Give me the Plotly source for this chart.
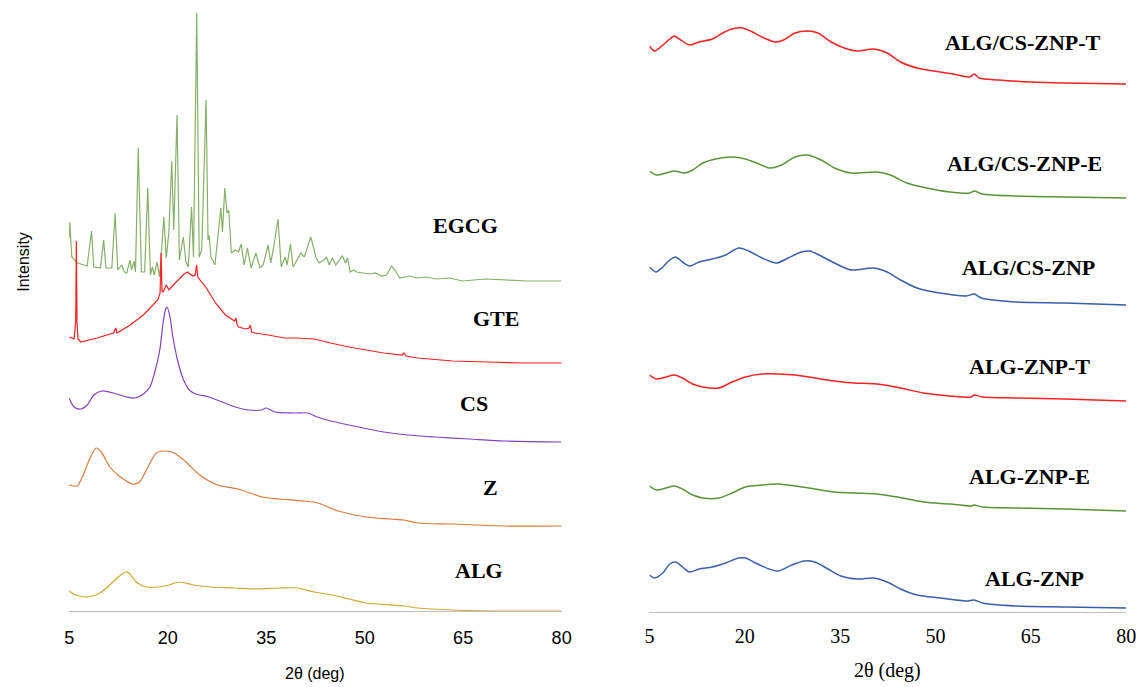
import plotly.graph_objects as go

# ---------------- data (2θ in deg, intensity in arbitrary stacked units) ----------------
TICKS = [5, 20, 35, 50, 65, 80]

EGCG = [(5.0,373),(5.1,389),(5.4,354),(6.25,348),(7.75,345),(8.4,380),(8.76,344),(9.76,343),(10.26,371),
        (10.6,343),(11.5,343),(12.0,398),(12.4,341),(13.0,346),(13.4,339),(13.77,338),(14.27,351),(14.5,341),
        (14.87,350),(15.1,339),(15.52,463),(16.0,339),(16.5,339),(16.97,423),(17.37,336),(17.67,344),(17.97,336),
        (18.37,349),(18.78,334),(19.43,394),(19.78,353),(20.18,378),(20.63,450),(20.93,381),(21.43,496),
        (21.79,351),(22.39,374),(22.78,349),(23.14,344),(23.64,404),(23.94,354),(24.43,598),(24.8,354),
        (25.19,361),(25.85,511),(26.15,371),(26.3,376),(26.6,354),(27.2,346),(27.8,381),(28.1,403),(28.35,379),
        (28.7,423),(29.05,398),(29.3,401),(29.7,358),(30.3,361),(30.8,359),(31.2,367),(31.65,346),(32.15,363),
        (32.7,343),(33.45,358),(34.05,343),(34.55,346),(35.3,366),(35.7,348),(36.2,366),(36.8,392),(37.3,344),
        (37.9,354),(38.2,346),(38.7,367),(39.1,344),(39.7,351),(40.3,358),(40.8,354),(41.3,364),(41.8,374),
        (42.2,364),(42.6,353),(43.1,348),(43.8,351),(44.2,354),(44.6,346),(45.1,353),(45.6,346),(46.6,355),
        (47.1,348),(47.4,353),(47.8,339),(48.3,341),(48.8,339),(49.8,338),(50.8,337),(51.6,338),(52.6,335),
        (53.35,336),(54.1,345),(54.6,341),(55.35,333),(56.85,335),(57.9,333),(59.4,334),(60.9,332),(62.9,333),
        (64.9,330),(68.4,332),(71.4,331),(74.9,330),(80.0,330)]

GTE = [(5.0,274),(5.75,272),(6.0,290),(6.1,370),(6.2,288),(6.35,272),(6.75,269),(9.25,273),(11.75,278),
       (12.1,283),(12.3,278),(14.3,286),(16.3,296),(17.8,306),(18.5,311),(18.85,318),(19.0,358),(19.15,320),
       (19.3,319),(19.8,326),(20.2,321),(21.3,329),(22.5,337),(23.0,339),(23.8,335),(24.2,336),(24.4,346),
       (24.6,334),(24.8,332),(25.8,324),(27.3,308),(28.8,296),(30.2,290),(30.4,293),(30.6,286),(30.8,284),
       (31.9,282),(32.4,283),(32.6,286),(32.8,279),(33.3,278),(35.3,276),(37.8,273),(39.7,273),(42.3,272),
       (44.8,268),(47.6,264),(52.9,258),(55.7,256),(56.0,258),(56.3,255),(58.1,253),(63.4,250),(68.7,249),
       (74.0,248),(80.0,248)]

CS = [(5.0,213),(5.75,204),(6.75,202),(7.75,206),(8.76,216),(10.0,220),(11.75,218),(13.77,214),(15.0,213),
      (16.3,217),(17.3,224),(18.0,238),(18.8,261),(19.3,288),(19.7,302),(19.9,304),(20.3,296),(20.8,274),
      (21.5,251),(22.3,233),(23.3,221),(24.3,217),(26.3,214),(28.3,209),(30.3,204),(32.3,201),(34.3,201),
      (35.0,203),(36.3,199),(39.3,198),(41.3,198),(42.8,194),(44.3,191),(47.6,186),(52.9,179),(56.6,176),
      (60.8,174),(66.0,172),(71.3,170),(80.0,169)]

Z = [(5.0,126),(6.2,125),(7.0,134),(8.06,151),(9.1,163),(9.9,159),(11.2,144),(12.8,134),(14.65,127),
     (15.7,129),(17.0,144),(18.3,158),(19.65,160),(21.0,158),(22.8,149),(24.9,136),(27.6,126),(30.7,122),
     (34.4,114),(37.05,112),(40.7,110),(42.85,108),(46.0,100),(50.2,94),(53.9,92),(56.0,91),(58.1,88),
     (63.4,87),(71.3,85),(80.0,85)]

ALG = [(5.0,20),(6.0,16),(7.5,14),(9.1,16),(10.7,23),(12.3,33),(13.6,39),(14.1,38),(15.4,28),(16.75,24),
       (18.6,24),(20.2,26),(21.8,29),(23.9,26),(26.5,24),(30.2,23),(33.4,22),(37.05,23),(39.7,23),(42.3,19),
       (45.0,16),(47.6,12),(50.2,8),(56.0,5),(58.1,3),(63.4,1),(71.3,0),(80.0,0)]

ALG_CS_ZNP_T = [(5.0,566),(5.8,561),(7.1,567),(8.2,573),(8.9,576),(9.7,573),(11.3,567),(12.8,570),(14.9,573),
                (16.5,579),(18.0,583),(19.6,584),(20.9,581),(22.7,575),(24.8,570),(26.1,572),(27.9,579),
                (29.9,581),(31.5,579),(33.6,570),(35.65,564),(37.7,561),(40.3,563),(42.4,559),(44.5,550),
                (47.1,544),(49.7,541),(52.8,538),(55.4,535),(56.1,538),(56.9,534),(60.0,532),(65.2,530),
                (70.4,529),(80.0,528)]

ALG_CS_ZNP_E = [(5.0,441),(6.1,437),(7.6,439),(8.9,441),(10.5,439),(11.8,442),(13.4,449),(15.4,453),(18.0,455),
                (20.1,453),(22.2,448),(24.0,444),(25.8,447),(27.9,455),(29.9,457),(32.0,452),(34.1,444),
                (36.7,439),(40.8,440),(42.9,437),(45.5,429),(48.6,424),(52.25,420),(55.4,419),(56.1,421),
                (57.4,418),(62.6,416),(70.4,415),(80.0,414)]

ALG_CS_ZNP = [(5.0,345),(6.0,340),(7.1,345),(8.2,352),(9.1,355),(10.2,350),(11.3,346),(12.8,350),(14.9,353),
              (17.0,357),(19.05,364),(20.6,361),(22.7,354),(25.0,349),(26.8,354),(28.9,360),(30.2,361),
              (32.0,356),(34.1,349),(36.7,342),(40.3,344),(42.4,340),(44.5,332),(47.1,324),(50.7,319),
              (54.85,316),(56.1,318),(57.2,314),(62.6,310),(70.4,309),(80.0,307)]

ALG_ZNP_T = [(5.0,237),(6.1,233),(7.6,235),(8.9,237),(10.2,234),(11.8,228),(13.4,225),(15.9,224),(18.0,230),
             (20.1,235),(22.7,238),(25.3,238),(27.9,237),(31.0,234),(34.1,231),(37.2,229),(40.8,228),
             (44.5,224),(48.1,219),(52.25,216),(55.6,215),(56.1,217),(57.4,215),(62.6,214),(70.4,213),(80.0,211)]

ALG_ZNP_E = [(5.0,126),(6.1,122),(7.6,124),(8.9,126),(10.2,123),(11.8,117),(13.4,114),(15.9,114),(18.0,119),
             (20.1,125),(22.7,127),(25.3,128),(27.9,126),(31.0,123),(34.1,120),(37.2,119),(40.8,118),
             (44.0,115),(48.1,110),(52.25,108),(55.6,106),(56.1,107),(57.4,105),(62.6,104),(70.4,103),(80.0,101)]

ALG_ZNP = [(5.0,37),(5.8,34),(7.1,39),(8.2,48),(9.1,50),(10.2,45),(11.3,40),(12.8,43),(14.9,45),(17.0,49),
           (19.05,54),(20.1,54),(21.7,49),(23.8,43),(25.3,41),(27.4,47),(29.4,51),(31.0,50),(33.1,43),
           (35.1,36),(37.75,33),(40.3,34),(42.4,30),(44.5,23),(47.1,17),(50.7,14),(54.85,11),(56.1,12),
           (57.4,9),(62.6,6),(70.4,5),(80.0,4)]

# name, data, colour, label centre (px), smooth?
LEFT = [("EGCG", EGCG, "#86B06A", 467, 225, False),
        ("GTE", GTE, "#FF2020", 498, 318, False),
        ("CS", CS, "#8044C0", 475, 403, True),
        ("Z", Z, "#DB7A3A", 492, 487, True),
        ("ALG", ALG, "#CDA833", 480, 570, True)]

RIGHT = [("ALG/CS-ZNP-T", ALG_CS_ZNP_T, "#FF2020", 1031, 43),
         ("ALG/CS-ZNP-E", ALG_CS_ZNP_E, "#5A9438", 1033, 163),
         ("ALG/CS-ZNP", ALG_CS_ZNP, "#3A5FAE", 1037, 267),
         ("ALG-ZNP-T", ALG_ZNP_T, "#FF2020", 1038, 367),
         ("ALG-ZNP-E", ALG_ZNP_E, "#5A9438", 1038, 477),
         ("ALG-ZNP", ALG_ZNP, "#3A5FAE", 1043, 578)]

W, H = 1148, 687
SERIF = "Liberation Serif, Times New Roman, serif"
SANS = "Liberation Sans, Arial, sans-serif"

fig = go.Figure()
annotations = []

for name, pts, color, lx, ly, smooth in LEFT:
    xs, ys = zip(*pts)
    line = dict(color=color, width=1.2)
    if smooth:
        line.update(shape="spline", smoothing=0.8)
    fig.add_trace(go.Scatter(x=xs, y=ys, mode="lines", name=name, line=line,
                             xaxis="x", yaxis="y", showlegend=False))
    annotations.append(dict(text=f"<b>{name}</b>", x=lx / W, y=(H - ly) / H, xref="paper", yref="paper",
                            showarrow=False, xanchor="center", yanchor="middle",
                            font=dict(family=SERIF, size=22, color="#000000")))

for name, pts, color, lx, ly in RIGHT:
    xs, ys = zip(*pts)
    fig.add_trace(go.Scatter(x=xs, y=ys, mode="lines", name=name,
                             line=dict(color=color, width=1.5, shape="spline", smoothing=0.8),
                             xaxis="x2", yaxis="y2", showlegend=False))
    annotations.append(dict(text=f"<b>{name}</b>", x=lx / W, y=(H - ly) / H, xref="paper", yref="paper",
                            showarrow=False, xanchor="center", yanchor="middle",
                            font=dict(family=SERIF, size=22, color="#000000")))

annotations += [
    dict(text="Intensity", x=18 / W, y=(H - 262) / H, xref="paper", yref="paper", showarrow=False,
         textangle=-90, xanchor="center", yanchor="middle", font=dict(family=SANS, size=16, color="#000000")),
    dict(text="2θ (deg)", x=314 / W, y=(H - 673) / H, xref="paper", yref="paper", showarrow=False,
         xanchor="center", yanchor="middle", font=dict(family=SANS, size=16, color="#000000")),
    dict(text="2θ (deg)", x=894 / W, y=(H - 670) / H, xref="paper", yref="paper", showarrow=False,
         xanchor="center", yanchor="middle", font=dict(family=SERIF, size=20, color="#000000")),
]

fig.update_layout(
    margin=dict(l=0, r=0, t=0, b=0, pad=0),
    paper_bgcolor="white", plot_bgcolor="white",
    showlegend=False,
    annotations=annotations,
    xaxis=dict(domain=[65 / W, 564 / W], range=[5, 80], tickvals=TICKS, ticktext=[str(t) for t in TICKS],
               showline=True, linecolor="#BFBFBF", linewidth=1, showgrid=False, zeroline=False,
               ticks="outside", ticklen=10, tickcolor="rgba(0,0,0,0)",
               tickfont=dict(family=SANS, size=18, color="#000000"), anchor="y"),
    yaxis=dict(domain=[76 / H, 1], range=[0, 611], visible=False, anchor="x"),
    xaxis2=dict(domain=[653 / W, 1136 / W], range=[5, 80], tickvals=TICKS, ticktext=[str(t) for t in TICKS],
                showline=True, linecolor="#BFBFBF", linewidth=1, showgrid=False, zeroline=False,
                ticks="outside", ticklen=6, tickcolor="rgba(0,0,0,0)",
                tickfont=dict(family=SERIF, size=20, color="#000000"), anchor="y2"),
    yaxis2=dict(domain=[75 / H, 1], range=[0, 612], visible=False, anchor="x2"),
)

POST = ("document.documentElement.style.margin='0';document.documentElement.style.overflow='hidden';"
        "document.body.style.margin='0';document.body.style.padding='0';document.body.style.overflow='hidden';")

# the graph div is pinned at the top-left corner of the page so nothing scrolls or shifts
fig.write_html("out.html", config={"responsive": False, "displayModeBar": False},
               default_width=f"{W}px;position:absolute;left:0;top:0;margin:0",
               default_height=f"{H}px", post_script=POST)
